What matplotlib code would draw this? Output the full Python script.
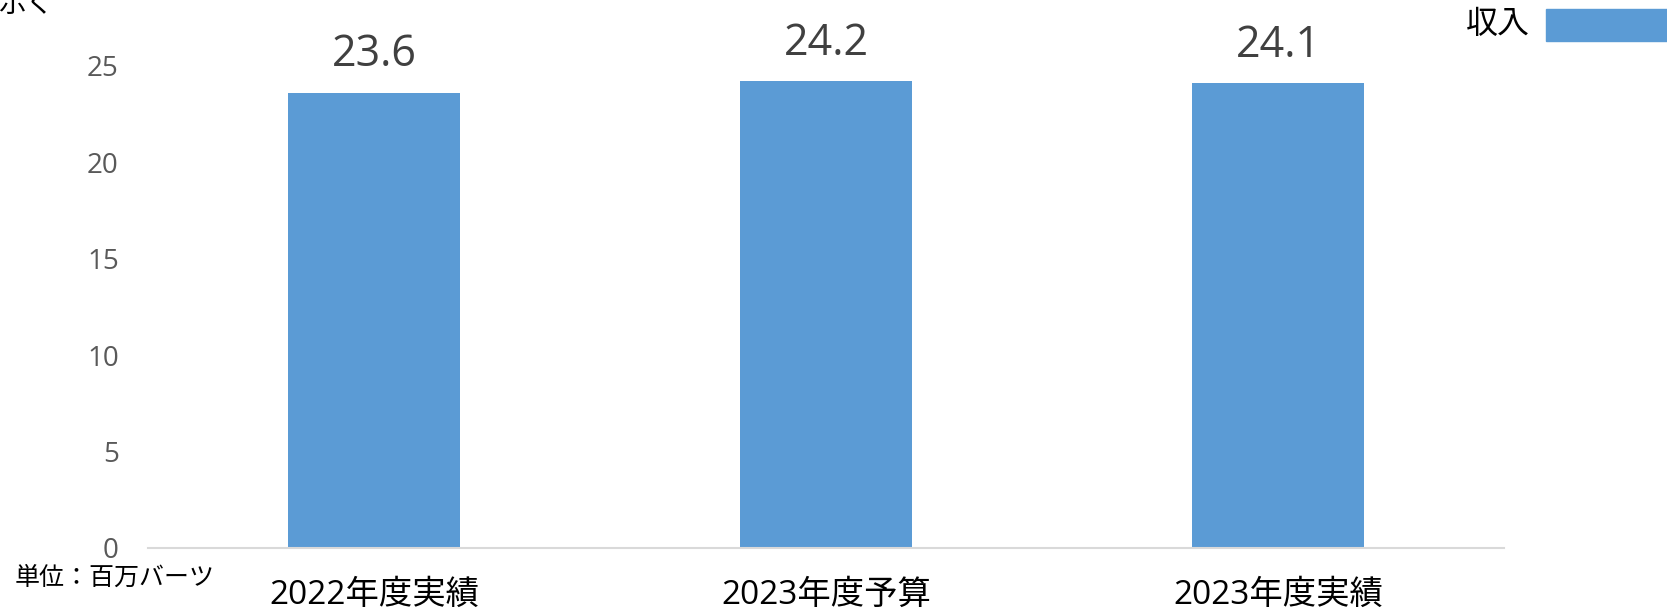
import matplotlib
matplotlib.use("Agg")
import matplotlib.pyplot as plt
from matplotlib.patches import Rectangle

plt.rcParams['font.family'] = ['Open Sans', 'Noto Sans CJK JP', 'DejaVu Sans']

categories = ["2022年度実績", "2023年度予算", "2023年度実績"]
values = [23.6, 24.2, 24.1]
yticks = [0, 5, 10, 15, 20, 25]
series_name = "収入"
unit_label = "単位：百万バーツ"
corner_text = "示く"

W, H = 1667, 613
fig = plt.figure(figsize=(W / 100, H / 100), dpi=100)
ax = fig.add_axes([148 / W, (H - 548) / H, 1356 / W, 28 * 19.3 / H])

bar_color = "#5B9BD5"
x = range(len(categories))
bars = ax.bar(x, values, width=0.38, color=bar_color)
ax.set_xlim(-0.5, len(categories) - 0.5)
ax.set_ylim(0, 28)
ax.set_yticks(yticks)
ax.set_yticklabels([str(t) for t in yticks], fontsize=20, color="#595959")
ax.set_xticks(list(x))
ax.set_xticklabels(categories, fontsize=24, color="#000000")
ax.tick_params(axis="y", length=0, pad=21)
ax.tick_params(axis="x", length=0, pad=22)
for s in ["top", "right", "left"]:
    ax.spines[s].set_visible(False)
ax.spines["bottom"].set_color("#D9D9D9")
ax.spines["bottom"].set_linewidth(1.5)

for b, v in zip(bars, values):
    ax.annotate(f"{v:.1f}", (b.get_x() + b.get_width() / 2, v),
                xytext=(0, 11), textcoords="offset points",
                ha="center", va="bottom", fontsize=31, color="#404040")

# legend (manual, clipped at the right edge)
fig.text(1530 / W, 1 - 24 / H, series_name, ha="right", va="center",
         fontsize=23, color="#000000")
fig.patches.append(Rectangle((1546 / W, 1 - 41 / H), 140 / W, 32 / H,
                             transform=fig.transFigure, color=bar_color,
                             clip_on=False))

fig.text(15 / W, 1 - 578 / H, unit_label, ha="left", va="center",
         fontsize=18, color="#000000")
fig.text(-2 / W, 1 - 12 / H, corner_text, ha="left", va="baseline",
         fontsize=20, color="#000000")

fig.savefig("out.png", dpi=100)
